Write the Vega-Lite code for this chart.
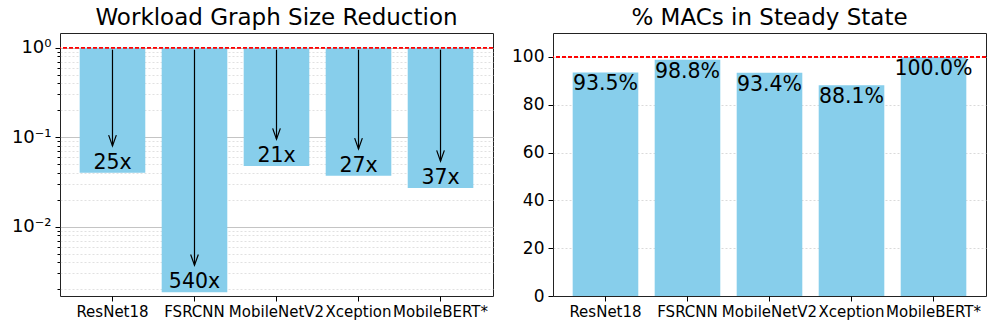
{
  "$schema": "https://vega.github.io/schema/vega-lite/v6.json",
  "background": "white",
  "padding": {"left": 10, "top": 6, "right": 8, "bottom": 4},
  "spacing": 16,
  "config": {
    "font": "DejaVu Sans",
    "view": {"stroke": "#222", "strokeWidth": 1},
    "title": {"font": "DejaVu Sans", "fontSize": 23, "fontWeight": "normal", "color": "black", "offset": 3},
    "axis": {"labelFont": "DejaVu Sans", "labelColor": "black", "tickColor": "black", "domain": false, "title": null}
  },
  "datasets": {
    "wl": [
      {"model": "ResNet18", "size": 0.04, "arrow_start": 0.95, "arrow_end": 0.08, "label": "25x"},
      {"model": "FSRCNN", "size": 0.00185, "arrow_start": 0.95, "arrow_end": 0.0037, "label": "540x"},
      {"model": "MobileNetV2", "size": 0.0476, "arrow_start": 0.95, "arrow_end": 0.0952, "label": "21x"},
      {"model": "Xception", "size": 0.037, "arrow_start": 0.95, "arrow_end": 0.074, "label": "27x"},
      {"model": "MobileBERT*", "size": 0.027, "arrow_start": 0.95, "arrow_end": 0.054, "label": "37x"}
    ],
    "ss": [
      {"model": "ResNet18", "pct": 93.5, "label": "93.5%"},
      {"model": "FSRCNN", "pct": 98.8, "label": "98.8%"},
      {"model": "MobileNetV2", "pct": 93.4, "label": "93.4%"},
      {"model": "Xception", "pct": 88.1, "label": "88.1%"},
      {"model": "MobileBERT*", "pct": 100.0, "label": "100.0%"}
    ]
  },
  "hconcat": [
    {
      "width": 433,
      "height": 263,
      "title": "Workload Graph Size Reduction",
      "data": {"name": "wl"},
      "encoding": {
        "x": {
          "field": "model", "type": "nominal", "sort": null,
          "scale": {"paddingInner": 0.2, "paddingOuter": 0.24},
          "axis": {"labelAngle": 0, "labelFontSize": 15, "tickSize": 5, "labelPadding": 3, "grid": false}
        }
      },
      "layer": [
        {
          "mark": {"type": "bar", "color": "#87CEEB"},
          "encoding": {
            "y": {
              "field": "size", "type": "quantitative",
              "scale": {"type": "log", "domain": [0.00168, 1.46], "nice": false},
              "axis": {
                "values": [1, 0.9, 0.8, 0.7, 0.6, 0.5, 0.4, 0.3, 0.2, 0.1, 0.09, 0.08, 0.07, 0.06, 0.05, 0.04, 0.03, 0.02, 0.01, 0.009, 0.008, 0.007, 0.006, 0.005, 0.004, 0.003, 0.002],
                "labelExpr": "datum.value == 1 ? '10⁰' : datum.value == 0.1 ? '10⁻¹' : datum.value == 0.01 ? '10⁻²' : ''",
                "labelFontSize": 18,
                "labelPadding": 4,
                "grid": true,
                "gridColor": {"condition": {"test": "datum.value == 1 || datum.value == 0.1 || datum.value == 0.01", "value": "#c4c4c4"}, "value": "#d9d9d9"},
                "gridDash": {"condition": {"test": "datum.value == 1 || datum.value == 0.1 || datum.value == 0.01", "value": []}, "value": [2, 2]},
                "gridWidth": {"condition": {"test": "datum.value == 1 || datum.value == 0.1 || datum.value == 0.01", "value": 1.2}, "value": 0.8},
                "tickSize": {"condition": {"test": "datum.value == 1 || datum.value == 0.1 || datum.value == 0.01", "value": 5}, "value": 3}
              }
            },
            "y2": {"datum": 1}
          }
        },
        {
          "mark": {"type": "rule", "color": "red", "strokeDash": [4, 2], "strokeWidth": 1.2},
          "encoding": {"y": {"datum": 1}, "x": {}}
        },
        {
          "mark": {"type": "rule", "color": "black", "strokeWidth": 1.2},
          "encoding": {"y": {"field": "arrow_start", "type": "quantitative"}, "y2": {"field": "arrow_end"}}
        },
        {
          "mark": {"type": "point", "shape": "M-1,-2.8L0,0L1,-2.8", "filled": false, "stroke": "black", "strokeWidth": 1.2, "size": 59, "opacity": 1},
          "encoding": {"y": {"field": "arrow_end", "type": "quantitative"}}
        },
        {
          "mark": {"type": "text", "fontSize": 20.5, "baseline": "alphabetic", "dy": -4, "color": "black"},
          "encoding": {"y": {"field": "size", "type": "quantitative"}, "text": {"field": "label"}}
        }
      ]
    },
    {
      "width": 433,
      "height": 263,
      "title": "% MACs in Steady State",
      "data": {"name": "ss"},
      "encoding": {
        "x": {
          "field": "model", "type": "nominal", "sort": null,
          "scale": {"paddingInner": 0.2, "paddingOuter": 0.24},
          "axis": {"labelAngle": 0, "labelFontSize": 15, "tickSize": 5, "labelPadding": 3, "grid": false}
        }
      },
      "layer": [
        {
          "mark": {"type": "bar", "color": "#87CEEB"},
          "encoding": {
            "y": {
              "field": "pct", "type": "quantitative",
              "scale": {"domain": [0, 110], "nice": false},
              "axis": {
                "values": [0, 20, 40, 60, 80, 100],
                "labelFontSize": 17,
                "labelPadding": 4,
                "tickSize": 5,
                "grid": true,
                "gridColor": "#d0d0d0",
                "gridOpacity": {"condition": {"test": "datum.value == 0", "value": 0}, "value": 1},
                "gridDash": [2, 2],
                "gridWidth": 0.8
              }
            }
          }
        },
        {
          "mark": {"type": "rule", "color": "red", "strokeDash": [4, 2], "strokeWidth": 1.2},
          "encoding": {"y": {"datum": 100}, "x": {}}
        },
        {
          "mark": {"type": "text", "fontSize": 20.5, "baseline": "alphabetic", "dy": 18, "color": "black"},
          "encoding": {"y": {"field": "pct", "type": "quantitative"}, "text": {"field": "label"}}
        }
      ]
    }
  ]
}
